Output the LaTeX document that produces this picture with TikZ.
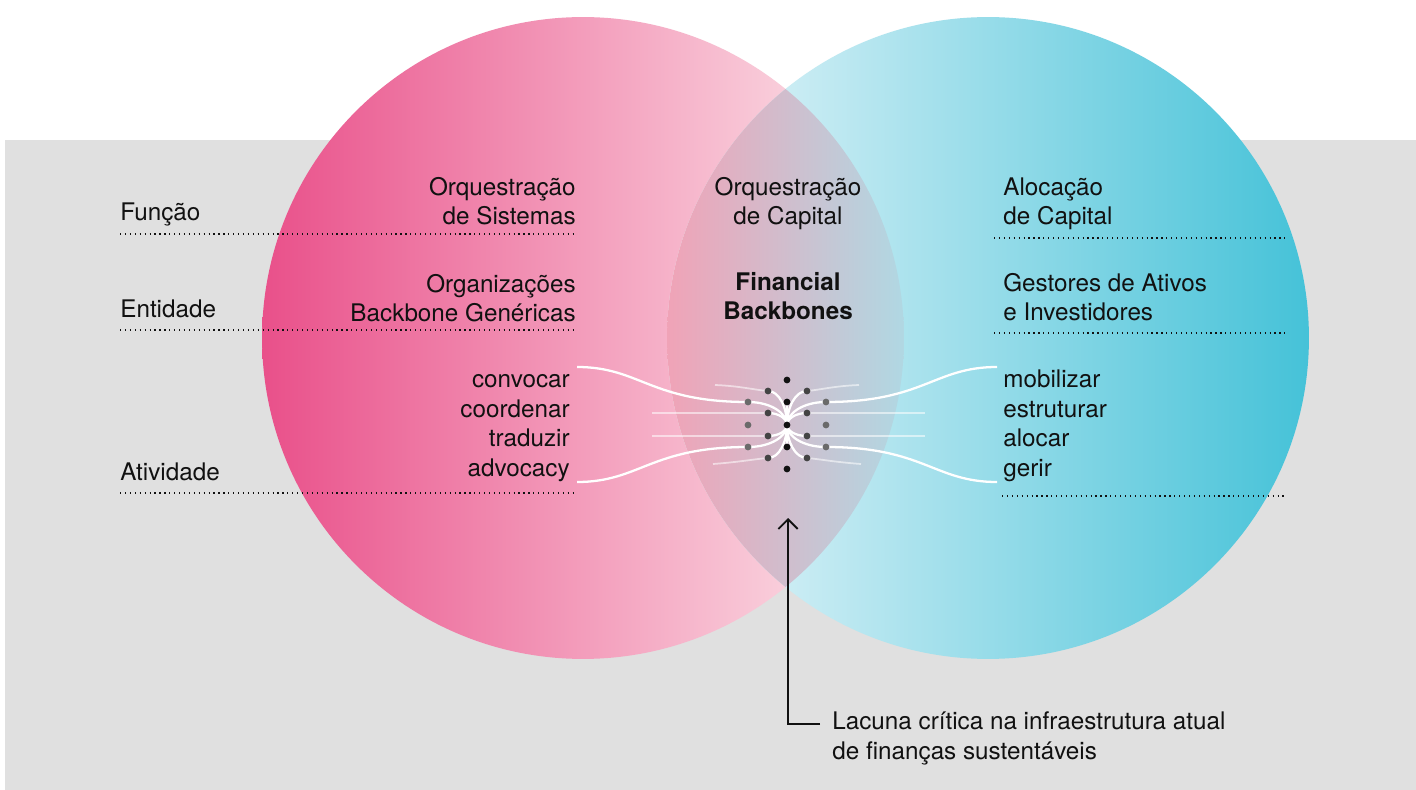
\documentclass[tikz,border=0pt]{standalone}
\usepackage{fontspec}
\setmainfont{TeX Gyre Heros}
\usepackage{xcolor}
\usetikzlibrary{positioning,calc,arrows.meta}

\definecolor{bggray}{HTML}{E0E0E0}
\definecolor{ink}{HTML}{111111}
\definecolor{pinkA}{HTML}{E9508A}
\definecolor{pinkB}{HTML}{F4B6C5}
\definecolor{pinkC}{HTML}{FDEAED}
\definecolor{blueA}{HTML}{E9F6FA}
\definecolor{blueB}{HTML}{C5E5ED}
\definecolor{blueC}{HTML}{45C2D8}
\definecolor{mixA}{HTML}{F0A3B7}
\definecolor{mixB}{HTML}{D8BCCB}
\definecolor{mixC}{HTML}{B0D8E3}
\definecolor{dotdark}{HTML}{444444}
\definecolor{dotmid}{HTML}{6A6A6A}

\tikzset{
  lbl/.style={font=\fontsize{13.8}{16.7}\selectfont, inner sep=0pt, text=ink},
  rowline/.style={draw=ink, line width=0.7pt, dash pattern=on 0.7pt off 2.1pt},
  flow/.style={draw=white, line width=1.3pt},
  faint/.style={draw=white, line width=1pt, opacity=0.55},
  gaparrow/.style={draw=ink, line width=1.1pt, -{Straight Barb[length=5.5pt, width=11pt]}},
}

\begin{document}
\begin{tikzpicture}[x=0.02cm, y=-0.02cm]
			\useasboundingbox (0,0) rectangle (1416,790);
			\fill[white] (0,0) rectangle (1416,790);
			\fill[bggray] (5,140) rectangle (1416,790);
			% the two circles and their overlap
			\shade[left color=pinkA, middle color=pinkB, right color=pinkC] (583,338) circle[radius=6.42cm];
			\shade[left color=blueA, middle color=blueB, right color=blueC] (988,338) circle[radius=6.42cm];
			\begin{scope}
				\clip (583,338) circle[radius=6.42cm];
				\clip (988,338) circle[radius=6.42cm];
				\shade[left color=mixA, middle color=mixB, right color=mixC] (667,0) rectangle (905,700);
			\end{scope}
			% dotted rows
			\draw[rowline] (120,234) -- (573,234);
			\draw[rowline] (120,330) -- (573,330);
			\draw[rowline] (120,493) -- (573,493);
			\draw[rowline] (994,238) -- (1286,238);
			\draw[rowline] (994,333) -- (1286,333);
			\draw[rowline] (1002,496) -- (1287,496);
			% row labels
			\node[lbl, anchor=base west] (funcao) at (120,221) {Função};
			\node[lbl, anchor=base west] (entidade) at (120,318) {Entidade};
			\node[lbl, anchor=base west] (atividade) at (120,480) {Atividade};
			% left circle
			\node[lbl, anchor=base east, align=right] (orqsis) at (576,225) {Orquestração\\de Sistemas};
			\node[lbl, anchor=base east, align=right] (genericas) at (576,322) {Organizações\\Backbone Genéricas};
			\node[lbl, anchor=base east, align=right] (verbsL) at (570,476) {convocar\\coordenar\\traduzir\\advocacy};
			% overlap
			\node[lbl, anchor=base, align=center] (orqcap) at (788,225) {Orquestração\\de Capital};
			\node[lbl, anchor=base, align=center, font=\fontsize{13.8}{16.7}\selectfont\bfseries] (backbones) at (788,320) {Financial\\Backbones};
			% right circle
			\node[lbl, anchor=base west, align=left] (alocacao) at (1003,225) {Alocação\\de Capital};
			\node[lbl, anchor=base west, align=left] (gestores) at (1003,321) {Gestores de Ativos\\e Investidores};
			\node[lbl, anchor=base west, align=left] (verbsR) at (1003,476) {mobilizar\\estruturar\\alocar\\gerir};
			% flows into the core
			\coordinate (core) at (787,425);
			\draw[faint] (652,413) -- (768,413);
			\draw[faint] (652,436) -- (768,436);
			\draw[faint] (807,413) -- (925,413);
			\draw[faint] (807,436) -- (925,436);
			\draw[faint] (715,385) .. controls (740,386) and (755,390) .. (768,391);
			\draw[faint] (859,385) .. controls (834,386) and (819,390) .. (807,391);
			\draw[faint] (713,464) .. controls (740,462) and (755,459) .. (768,458);
			\draw[faint] (861,464) .. controls (834,462) and (819,459) .. (807,458);
			\draw[flow] (577,367) .. controls (640,367) and (650,402) .. (748,402);
			\draw[flow] (577,482) .. controls (640,482) and (650,447) .. (748,447);
			\draw[flow] (997,367) .. controls (934,367) and (924,402) .. (826,402);
			\draw[flow] (997,482) .. controls (934,482) and (924,447) .. (826,447);
			\foreach \px/\py in {748/402, 768/391, 768/413, 807/391, 807/413, 826/402, 748/447, 768/436, 768/458, 807/436, 807/458, 826/447}
				\draw[flow] (\px,\py) .. controls ({\px+(787-\px)*0.6},\py) and (787,{\py+(425-\py)*0.5}) .. (core);
			\draw[flow] (787,402) -- (core);
			\draw[flow] (787,447) -- (core);
			% dots
			\foreach \py in {380,402,425,447,469}
				\fill[ink] (787,\py) circle[radius=0.068cm];
			\foreach \px/\py in {768/391, 807/391, 768/413, 807/413, 768/436, 807/436, 768/458, 807/458}
				\fill[dotdark] (\px,\py) circle[radius=0.068cm];
			\foreach \px/\py in {748/402, 826/402, 748/425, 826/425, 748/447, 826/447}
				\fill[dotmid] (\px,\py) circle[radius=0.068cm];
			% gap annotation
			\node[lbl, anchor=base west, align=left] (lacuna) at (832,759) {Lacuna crítica na infraestrutura atual\\de finanças sustentáveis};
			\coordinate (elbow) at (788,724);
			\coordinate (gap) at (788,518);
			\draw[gaparrow] ([xshift=-0.24cm]lacuna.west |- elbow) -- (elbow) -- (gap);
		\end{tikzpicture}
\end{document}
